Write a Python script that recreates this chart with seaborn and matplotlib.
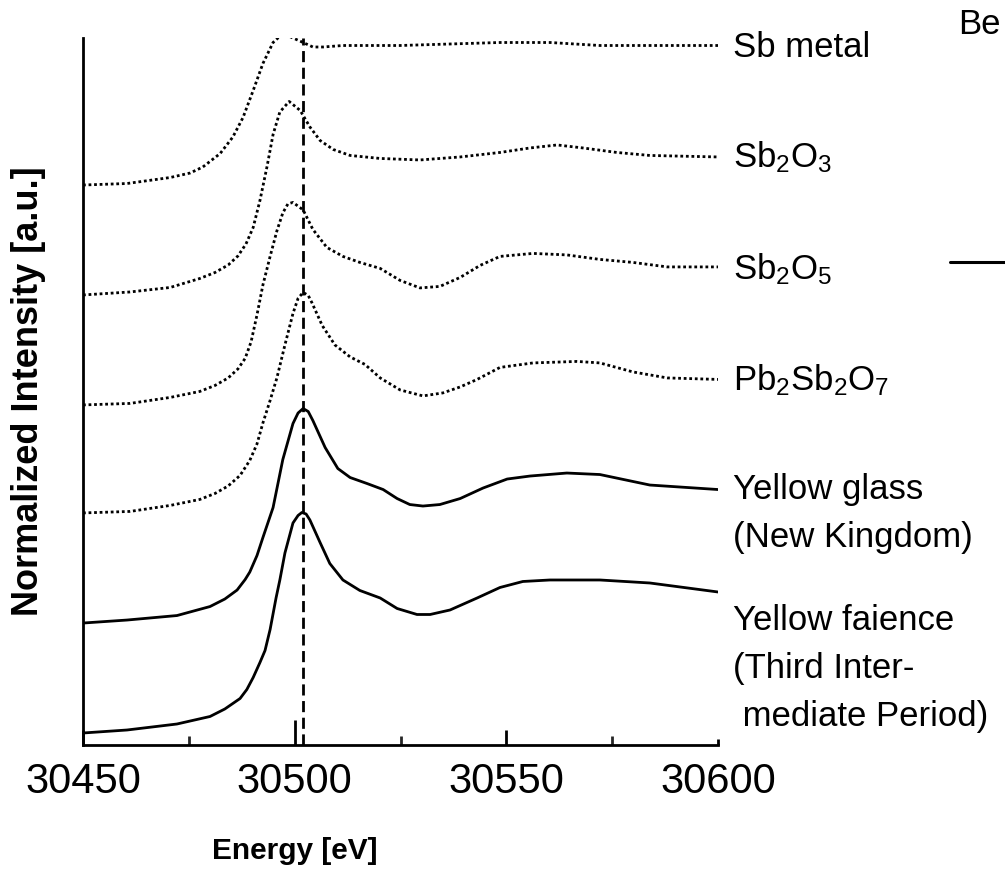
import matplotlib
matplotlib.use("Agg")
import matplotlib.pyplot as plt
import numpy as np
import pandas as pd
import seaborn as sns
from matplotlib.ticker import MultipleLocator
from matplotlib.lines import Line2D

sns.set_theme(style="white")
plt.rcParams["font.family"] = ["Liberation Sans", "DejaVu Sans"]
plt.rcParams["mathtext.default"] = "regular"

# Sb K-edge XANES spectra: energy (eV) and normalized absorption
sb_metal_e = [30450.0, 30460.4, 30470.6, 30475.3, 30478.3, 30482.4, 30485.4, 30487.8,
              30490.2, 30492.5, 30494.9, 30497.2, 30499.6, 30502.0, 30504.3, 30506.7,
              30511.4, 30515.4, 30524.9, 30536.7, 30548.5, 30560.3, 30572.1, 30583.9,
              30600.0]
sb_metal_mu = [0.00, 0.01, 0.05, 0.08, 0.12, 0.21, 0.32, 0.45, 0.63, 0.81, 0.95, 1.01,
               0.98, 0.95, 0.92, 0.92, 0.93, 0.93, 0.93, 0.94, 0.95, 0.95, 0.93, 0.93,
               0.93]

sb2o3_e = [30450.0, 30461.1, 30470.6, 30477.6, 30481.2, 30484.3, 30486.6, 30488.5,
           30490.2, 30491.8, 30493.5, 30494.9, 30496.5, 30498.7, 30501.3, 30503.6,
           30506.0, 30509.1, 30513.1, 30520.2, 30529.6, 30539.1, 30548.5, 30555.6,
           30562.0, 30568.1, 30576.1, 30583.9, 30600.0]
sb2o3_mu = [0.00, 0.02, 0.05, 0.11, 0.15, 0.20, 0.26, 0.34, 0.45, 0.63, 0.86, 1.07,
            1.22, 1.29, 1.23, 1.12, 1.03, 0.97, 0.93, 0.91, 0.90, 0.92, 0.95, 0.98,
            1.00, 0.98, 0.95, 0.93, 0.92]

sb2o5_e = [30450.0, 30461.1, 30470.6, 30477.6, 30481.2, 30484.3, 30486.6, 30488.3,
           30489.7, 30491.1, 30492.5, 30494.2, 30495.8, 30497.2, 30498.4, 30499.6,
           30502.0, 30504.3, 30507.6, 30511.4, 30515.4, 30520.2, 30524.9, 30529.6,
           30534.3, 30539.1, 30543.8, 30548.5, 30556.3, 30564.3, 30572.1, 30579.9,
           30588.0, 30600.0]
sb2o5_mu = [0.00, 0.01, 0.05, 0.09, 0.13, 0.18, 0.24, 0.31, 0.42, 0.60, 0.80, 0.99,
            1.16, 1.28, 1.34, 1.35, 1.30, 1.17, 1.05, 0.99, 0.95, 0.91, 0.83, 0.78,
            0.79, 0.85, 0.93, 0.99, 1.01, 1.00, 0.97, 0.95, 0.92, 0.92]

pb2sb2o7_e = [30450.0, 30461.1, 30470.6, 30477.6, 30481.2, 30484.3, 30487.1, 30489.4,
              30491.1, 30492.5, 30494.2, 30495.8, 30497.7, 30499.6, 30500.8, 30502.0,
              30503.2, 30504.1, 30506.5, 30509.5, 30513.1, 30516.6, 30520.2, 30524.9,
              30530.3, 30535.0, 30539.1, 30543.1, 30548.5, 30556.3, 30566.7, 30572.1,
              30579.9, 30588.0, 30600.0]
pb2sb2o7_mu = [0.00, 0.01, 0.05, 0.09, 0.13, 0.18, 0.25, 0.35, 0.46, 0.60, 0.75, 0.90,
               1.12, 1.33, 1.43, 1.47, 1.45, 1.40, 1.25, 1.12, 1.04, 0.99, 0.90, 0.82,
               0.78, 0.80, 0.84, 0.89, 0.97, 1.00, 1.01, 1.00, 0.94, 0.90, 0.89]

glass_e = [30450.0, 30460.4, 30472.2, 30480.0, 30483.5, 30486.4, 30488.3, 30489.4,
           30491.1, 30492.5, 30494.9, 30497.2, 30499.6, 30500.8, 30502.0, 30503.2,
           30504.3, 30507.2, 30510.2, 30513.1, 30517.1, 30520.9, 30524.2, 30527.2,
           30530.3, 30534.3, 30539.1, 30544.5, 30550.2, 30555.6, 30564.3, 30572.1,
           30583.9, 30600.0]
glass_mu = [0.00, 0.02, 0.05, 0.11, 0.16, 0.22, 0.29, 0.34, 0.45, 0.57, 0.77, 1.09,
            1.33, 1.40, 1.43, 1.41, 1.35, 1.17, 1.03, 0.97, 0.93, 0.89, 0.83, 0.79,
            0.78, 0.79, 0.83, 0.90, 0.96, 0.98, 1.00, 0.99, 0.92, 0.89]

faience_e = [30450.0, 30460.4, 30472.2, 30480.0, 30483.5, 30487.1, 30488.7, 30490.2,
             30491.8, 30493.0, 30494.2, 30495.6, 30496.5, 30497.7, 30499.6, 30500.8,
             30501.7, 30502.7, 30503.6, 30506.0, 30508.3, 30511.4, 30515.4, 30520.2,
             30524.2, 30528.9, 30532.0, 30536.7, 30543.1, 30548.5, 30553.9, 30560.3,
             30572.1, 30583.9, 30600.0]
faience_mu = [0.00, 0.02, 0.06, 0.11, 0.16, 0.23, 0.29, 0.37, 0.47, 0.55, 0.69, 0.90,
              1.02, 1.20, 1.40, 1.45, 1.47, 1.46, 1.42, 1.27, 1.13, 1.02, 0.95, 0.90,
              0.83, 0.79, 0.79, 0.82, 0.90, 0.97, 1.01, 1.02, 1.02, 1.00, 0.94]

samples = ["Sb metal", "Sb2O3", "Sb2O5", "Pb2Sb2O7", "Yellow glass", "Yellow faience"]
energies = [sb_metal_e, sb2o3_e, sb2o5_e, pb2sb2o7_e, glass_e, faience_e]
intensities = [sb_metal_mu, sb2o3_mu, sb2o5_mu, pb2sb2o7_mu, glass_mu, faience_mu]
offsets = [3.733, 3.0, 2.267, 1.547, 0.813, 0.08]
edge_energy = 30502.0

frames = []
for name, e, mu, off in zip(samples, energies, intensities, offsets):
    frames.append(pd.DataFrame({"Energy": e,
                                "Intensity": np.asarray(mu) + off,
                                "Sample": name}))
df = pd.concat(frames, ignore_index=True)

fig = plt.figure(figsize=(10.05, 8.9), dpi=100)
ax = fig.add_axes([83 / 1005, 145 / 890, 635 / 1005, 707 / 890])

dash_map = {s: (1, 1) for s in samples[:4]}
dash_map.update({s: "" for s in samples[4:]})
sns.lineplot(data=df, x="Energy", y="Intensity", hue="Sample", style="Sample",
             palette=["black"] * len(samples), dashes=dash_map, sort=False,
             estimator=None, linewidth=2, legend=False, ax=ax)

ax.axvline(edge_energy, color="black", lw=2, ls=(0, (4, 2)))

ax.set_xlim(30450, 30600)
ax.set_ylim(0, 4.713)
ax.set_yticks([])
ax.set_xticks([30450, 30500, 30550, 30600])
ax.xaxis.set_minor_locator(MultipleLocator(25))
ax.tick_params(axis="x", which="major", direction="in", length=11, width=2,
               labelsize=30, pad=12, colors="black", bottom=True)
ax.tick_params(axis="x", which="minor", direction="in", length=6.5, width=2,
               bottom=True)
major_lengths = [11, 18, 11, 4]
for tick, length in zip(ax.xaxis.get_major_ticks(), major_lengths):
    tick.tick1line.set_markersize(length)
for sp in ["top", "right"]:
    ax.spines[sp].set_visible(False)
for sp in ["left", "bottom"]:
    ax.spines[sp].set_linewidth(2)
    ax.spines[sp].set_color("black")

ax.set_xlabel("Energy [eV]", fontsize=21.5, fontweight="bold", color="black")
ax.xaxis.set_label_coords((295 - 83) / 635, -0.13)
ax.set_ylabel("Normalized Intensity [a.u.]", fontsize=26, fontweight="bold",
              color="black")
ax.yaxis.set_label_coords(-0.058, 0.5)

# sample names at the right of each trace
label_x = 30603.5
label_lines = [
    ("Sb metal", 4.653),
    ("Sb$_{2}$O$_{3}$", 3.92),
    ("Sb$_{2}$O$_{5}$", 3.173),
    ("Pb$_{2}$Sb$_{2}$O$_{7}$", 2.433),
    ("Yellow glass", 1.70),
    ("(New Kingdom)", 1.38),
    ("Yellow faience", 0.833),
    ("(Third Inter-", 0.513),
    (" mediate Period)", 0.193),
]
for txt, y in label_lines:
    ax.text(label_x, y, txt, fontsize=25, ha="left", va="center",
            color="black", clip_on=False)

fig.text(958 / 1005, 1 - 25 / 890, "Be", fontsize=25, ha="left", va="center",
         color="black")
fig.add_artist(Line2D([950 / 1005, 1.0], [1 - 262 / 890, 1 - 262 / 890],
                      color="black", lw=2.2, transform=fig.transFigure))

fig.savefig("out.png", dpi=100)
